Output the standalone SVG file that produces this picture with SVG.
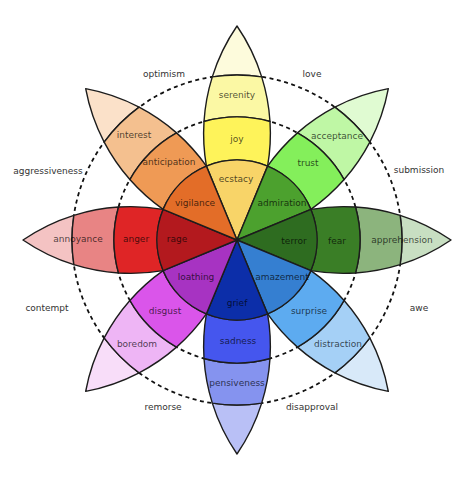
<svg xmlns="http://www.w3.org/2000/svg" xmlns:xlink="http://www.w3.org/1999/xlink" width="474" height="480" viewBox="0 0 474 480">
<style>
.p{stroke:#1c1c1c;stroke-width:1.4;stroke-linejoin:round}
.lbl{font-family:"DejaVu Sans","Liberation Sans",sans-serif;font-size:9px;text-anchor:middle;fill:#000;fill-opacity:0.7}
.dy{font-family:"DejaVu Sans","Liberation Sans",sans-serif;font-size:9px;text-anchor:middle;fill:#333}
.ring{fill:none;stroke:#111;stroke-width:1.8;stroke-dasharray:4 3.5}
</style>
<defs>
<path id="core" d="M0,0 L-30.6,-73.9 A80,80 0 0 1 30.6,-73.9 Z"/>
<path id="mid" d="M30.6,-73.9 A190.3,190.3 0 0 0 33,-118.5 A123,123 0 0 0 -33,-118.5 A190.3,190.3 0 0 0 -30.6,-73.9 A80,80 0 0 1 30.6,-73.9 Z"/>
<path id="band" d="M33,-118.5 A190.3,190.3 0 0 0 24.7,-163.15 A165,165 0 0 0 -24.7,-163.15 A190.3,190.3 0 0 0 -33,-118.5 A123,123 0 0 1 33,-118.5 Z"/>
<path id="tip" d="M24.7,-163.15 A190.3,190.3 0 0 0 0,-214 A190.3,190.3 0 0 0 -24.7,-163.15 A165,165 0 0 1 24.7,-163.15 Z"/>
</defs>
<rect width="474" height="480" fill="#fff"/>
<g id="connectors">
<circle class="ring" cx="237" cy="240" r="123"/>
<circle class="ring" cx="237" cy="240" r="165"/>
</g>
<g id="joy">
<g transform="translate(237 240)" class="p">
<use xlink:href="#tip" fill="#fdfbdc"/><use xlink:href="#band" fill="#fbf8a4"/><use xlink:href="#mid" fill="#fef35a"/><use xlink:href="#core" fill="#f8d468"/>
</g>
<text class="lbl" x="237" y="98">serenity</text><text class="lbl" x="237" y="142">joy</text><text class="lbl" x="236" y="182">ecstacy</text>
</g>
<g id="trust">
<g transform="translate(237 240) rotate(45)" class="p">
<use xlink:href="#tip" fill="#e0fbd2"/><use xlink:href="#band" fill="#bff7a5"/><use xlink:href="#mid" fill="#84ef5b"/><use xlink:href="#core" fill="#4ca12e"/>
</g>
<text class="lbl" x="337" y="139">acceptance</text><text class="lbl" x="308" y="166">trust</text><text class="lbl" x="282" y="206">admiration</text>
</g>
<g id="fear">
<g transform="translate(237 240) rotate(90)" class="p">
<use xlink:href="#tip" fill="#c8dfc2"/><use xlink:href="#band" fill="#8cb47d"/><use xlink:href="#mid" fill="#3a7e26"/><use xlink:href="#core" fill="#2e6c20"/>
</g>
<text class="lbl" x="402" y="243">apprehension</text><text class="lbl" x="337" y="244">fear</text><text class="lbl" x="294" y="244">terror</text>
</g>
<g id="surprise">
<g transform="translate(237 240) rotate(135)" class="p">
<use xlink:href="#tip" fill="#d8e9f9"/><use xlink:href="#band" fill="#a5d0f6"/><use xlink:href="#mid" fill="#5dabf0"/><use xlink:href="#core" fill="#357fd1"/>
</g>
<text class="lbl" x="338" y="347">distraction</text><text class="lbl" x="309" y="314">surprise</text><text class="lbl" x="282" y="280">amazement</text>
</g>
<g id="sadness">
<g transform="translate(237 240) rotate(180)" class="p">
<use xlink:href="#tip" fill="#b9c0f6"/><use xlink:href="#band" fill="#8593ef"/><use xlink:href="#mid" fill="#4556ee"/><use xlink:href="#core" fill="#0c2ea9"/>
</g>
<text class="lbl" x="237" y="386">pensiveness</text><text class="lbl" x="238" y="344">sadness</text><text class="lbl" x="237" y="306">grief</text>
</g>
<g id="disgust">
<g transform="translate(237 240) rotate(225)" class="p">
<use xlink:href="#tip" fill="#f8ddf9"/><use xlink:href="#band" fill="#eeb5f5"/><use xlink:href="#mid" fill="#da55ea"/><use xlink:href="#core" fill="#a733c2"/>
</g>
<text class="lbl" x="137" y="347">boredom</text><text class="lbl" x="165" y="314">disgust</text><text class="lbl" x="196" y="280">loathing</text>
</g>
<g id="anger">
<g transform="translate(237 240) rotate(270)" class="p">
<use xlink:href="#tip" fill="#f4c3c3"/><use xlink:href="#band" fill="#e88484"/><use xlink:href="#mid" fill="#df2526"/><use xlink:href="#core" fill="#b3191e"/>
</g>
<text class="lbl" x="78" y="242">annoyance</text><text class="lbl" x="136" y="242">anger</text><text class="lbl" x="177" y="242">rage</text>
</g>
<g id="anticipation">
<g transform="translate(237 240) rotate(315)" class="p">
<use xlink:href="#tip" fill="#fbe1c9"/><use xlink:href="#band" fill="#f4c08f"/><use xlink:href="#mid" fill="#ef9a55"/><use xlink:href="#core" fill="#e36d28"/>
</g>
<text class="lbl" x="134" y="138">interest</text><text class="lbl" x="169" y="165">anticipation</text><text class="lbl" x="195" y="206">vigilance</text>
</g>
<g id="dyads">
<text class="dy" x="164" y="77">optimism</text>
<text class="dy" x="312" y="77">love</text>
<text class="dy" x="48" y="174">aggressiveness</text>
<text class="dy" x="419" y="173">submission</text>
<text class="dy" x="47" y="311">contempt</text>
<text class="dy" x="419" y="311">awe</text>
<text class="dy" x="163" y="410">remorse</text>
<text class="dy" x="312" y="410">disapproval</text>
</g>
</svg>
